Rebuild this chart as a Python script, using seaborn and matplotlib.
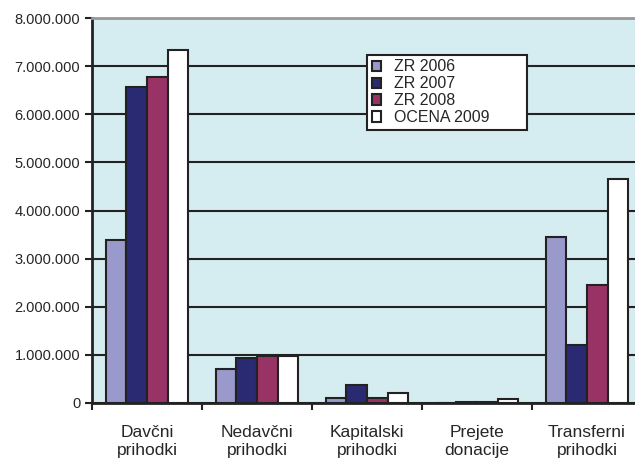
import pandas as pd
import seaborn as sns
import matplotlib.pyplot as plt
from matplotlib.ticker import FuncFormatter

# data
categories = ['Davčni\nprihodki', 'Nedavčni\nprihodki', 'Kapitalski\nprihodki',
              'Prejete\ndonacije', 'Transferni\nprihodki']
series = ['ZR 2006', 'ZR 2007', 'ZR 2008', 'OCENA 2009']
zr2006 = [3380000, 710000, 100000, 5000, 3450000]
zr2007 = [6570000, 940000, 370000, 30000, 1200000]
zr2008 = [6780000, 980000, 100000, 30000, 2450000]
ocena2009 = [7340000, 980000, 200000, 80000, 4660000]
colors = ['#9999cc', '#2a2a72', '#993366', '#ffffff']

df = pd.DataFrame({'kategorija': categories * 4,
                   'serija': [s for s in series for _ in categories],
                   'vrednost': zr2006 + zr2007 + zr2008 + ocena2009})

sns.set_style('white')
plt.rcParams['font.family'] = ['Liberation Sans', 'DejaVu Sans']

fig = plt.figure(figsize=(6.35, 4.59), dpi=100)
ax = fig.add_axes([92 / 635, 1 - 403 / 459, 550 / 635, 385 / 459])
ax.set_facecolor('#d5ecf0')

sns.barplot(data=df, x='kategorija', y='vrednost', hue='serija', order=categories,
            hue_order=series, palette=colors, width=0.75, edgecolor='#222222',
            linewidth=1.5, saturation=1, ax=ax, zorder=3)

ax.set_ylim(0, 8000000)
ax.set_xlim(-0.5, 4.5)
ax.set_yticks(range(0, 8000001, 1000000))
ax.yaxis.set_major_formatter(FuncFormatter(lambda v, p: f'{int(v):,}'.replace(',', '.')))
ax.grid(axis='y', color='#222222', linewidth=1.5, zorder=0)
ax.set_axisbelow(True)

# ticks at category boundaries, labels at centres
ax.set_xticks([-0.5, 0.5, 1.5, 2.5, 3.5, 4.5])
ax.set_xticklabels([])
ax.set_xticks(range(len(categories)), minor=True)
ax.set_xticklabels(categories, minor=True, fontsize=12.5, linespacing=1.25)
ax.tick_params(axis='x', which='minor', length=0, pad=16)
ax.tick_params(axis='x', which='major', length=5, width=1.5, direction='out', color='#222222', bottom=True)
ax.tick_params(axis='y', length=5, width=1.5, direction='out', color='#222222', left=True, labelsize=10.5)

ax.set_xlabel('')
ax.set_ylabel('')
for s in ['left', 'bottom']:
    ax.spines[s].set_color('#222222')
    ax.spines[s].set_linewidth(2)
ax.spines['top'].set_color('#999999')
ax.spines['top'].set_linewidth(2)
ax.spines['right'].set_visible(False)

# legend box is wider than its text in the reference -> expand into a fixed bbox
leg = ax.legend(loc='upper left', bbox_to_anchor=(0.5, 0.6, 160 / 550, 0.305),
                mode='expand', borderaxespad=0,
                fontsize=11.5, handlelength=0.6, handleheight=0.6, labelspacing=0.12,
                handletextpad=0.8, borderpad=0.3,
                frameon=True, fancybox=False, edgecolor='#222222', framealpha=1)
leg.get_frame().set_linewidth(1.5)
leg.set_zorder(5)

fig.savefig('out.png', dpi=100)
